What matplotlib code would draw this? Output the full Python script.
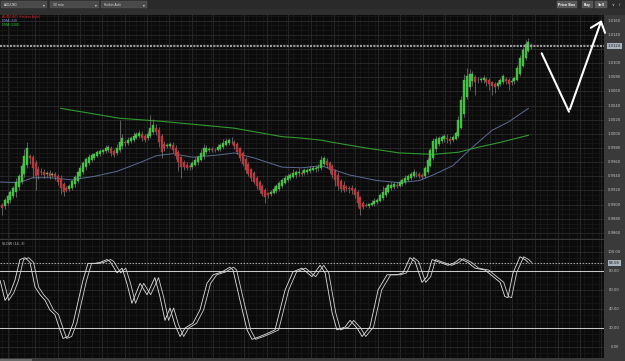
import numpy as np
import matplotlib
matplotlib.use("Agg")
import matplotlib.pyplot as plt
import matplotlib.transforms as mtransforms
from matplotlib.patches import Rectangle, FancyArrowPatch
from matplotlib.lines import Line2D
from matplotlib.ticker import MultipleLocator

W, H = 625, 361
PIP = 1e-4
PIP_BASE = 0.9800

# ─── data ───────────────────────────────────────────────────────────────────
# Heikin-Ashi closes, pips above PIP_BASE, one per 30-min candle
ha_close_pips = [
    95, 107, 112, 118, 123, 132, 140, 154, 169, 180,
    166, 152, 140, 142, 146, 142, 145, 140, 143, 139,
    132, 123, 118, 121, 126, 133, 139, 146, 152, 159,
    164, 167, 170, 171, 174, 176, 177, 180, 181, 173,
    170, 180, 188, 194, 187, 191, 194, 197, 200, 201,
    194, 191, 200, 208, 213, 203, 188, 174, 180, 184,
    185, 177, 169, 160, 153, 153, 152, 153, 159, 163,
    167, 173, 180, 180, 179, 177, 177, 181, 184, 187,
    190, 191, 188, 183, 174, 166, 157, 149, 143, 138,
    132, 126, 121, 115, 111, 114, 118, 122, 126, 131,
    135, 138, 140, 142, 145, 146, 146, 143, 149, 149,
    150, 152, 152, 153, 163, 166, 156, 149, 142, 135,
    126, 122, 121, 123, 122, 121, 113, 103, 94, 97,
    98, 101, 103, 105, 107, 113, 118, 123, 128, 128,
    129, 126, 132, 135, 138, 140, 143, 146, 143, 140,
    139, 152, 163, 177, 190, 192, 194, 195, 197, 192,
    190, 195, 201, 220, 248, 276, 281, 284, 285, 273,
    276, 277, 279, 273, 270, 267, 266, 272, 276, 281,
    275, 270, 275, 279, 293, 307, 318, 327, 329, 325,
]
ha_first_open_pips = 100

wick_up_pips = [
    3, 2, 3, 2, 4, 6, 3, 5, 10, 8,
    4, 3, 3, 5, 6, 5, 3, 4, 3, 3,
    3, 5, 2, 3, 3, 2, 3, 2, 4, 3,
    3, 4, 3, 2, 3, 3, 2, 4, 3, 4,
    3, 5, 31, 6, 3, 4, 3, 5, 3, 4,
    5, 3, 4, 18, 8, 6, 4, 3, 4, 3,
    4, 5, 3, 3, 2, 3, 4, 3, 3, 4,
    3, 5, 6, 4, 3, 3, 3, 4, 3, 5,
    4, 3, 6, 3, 3, 2, 3, 2, 3, 2,
    3, 2, 3, 2, 3, 2, 3, 4, 3, 3,
    3, 4, 3, 3, 5, 3, 6, 4, 3, 3,
    4, 3, 3, 4, 5, 3, 4, 3, 3, 2,
    4, 3, 6, 4, 3, 5, 3, 3, 2, 3,
    3, 2, 3, 4, 3, 4, 8, 3, 3, 4,
    3, 4, 3, 3, 4, 3, 3, 4, 5, 3,
    3, 3, 4, 3, 4, 5, 3, 4, 3, 5,
    3, 4, 3, 5, 6, 8, 12, 8, 4, 3,
    4, 3, 4, 3, 3, 2, 3, 4, 3, 4,
    3, 3, 4, 3, 4, 5, 4, 6, 6, 3,
]
wick_dn_pips = [
    10, 4, 3, 5, 3, 7, 4, 3, 4, 5,
    8, 14, 20, 6, 4, 5, 5, 4, 3, 4,
    4, 8, 6, 3, 3, 4, 3, 3, 2, 3,
    3, 2, 3, 3, 2, 3, 2, 3, 4, 5,
    3, 3, 2, 3, 4, 3, 2, 3, 2, 3,
    4, 3, 2, 3, 2, 4, 6, 8, 4, 3,
    3, 4, 5, 12, 15, 4, 3, 4, 3, 2,
    3, 2, 3, 3, 2, 3, 3, 2, 3, 3,
    2, 3, 3, 4, 3, 4, 3, 4, 3, 4,
    3, 4, 4, 3, 8, 4, 3, 2, 3, 3,
    3, 2, 3, 3, 2, 4, 3, 3, 2, 3,
    3, 2, 4, 3, 3, 3, 4, 5, 4, 8,
    5, 4, 3, 4, 5, 6, 4, 6, 8, 3,
    2, 3, 2, 3, 3, 2, 3, 3, 2, 3,
    4, 3, 2, 3, 3, 2, 3, 2, 4, 3,
    3, 2, 3, 2, 3, 3, 2, 3, 4, 5,
    4, 3, 2, 3, 2, 4, 3, 4, 8, 18,
    4, 3, 5, 6, 8, 12, 8, 4, 3, 3,
    5, 8, 4, 3, 2, 3, 2, 3, 2, 3,
]

ema50_idx = [-1, 6, 11, 17, 25, 33, 41, 49, 55, 61, 68, 77, 83, 90, 100,
             107, 114, 124, 134, 142, 149, 154, 161, 168, 175, 181, 188]
ema50_pips = [132, 131, 138, 138, 135, 140, 147, 159, 169, 172, 167, 170, 173, 166, 153,
              152, 155, 142, 134, 131, 134, 142, 155, 181, 205, 217, 236]

ema200_idx = [21, 42, 56, 83, 100, 107, 114, 118, 130, 142, 154, 163, 170, 178, 188]
ema200_pips = [236, 222, 218, 208, 196, 194, 191, 188, 180, 173, 171, 174, 181, 188, 198]

slow_idx = [-0.7, 1.1, 2.9, 4.6, 6.4, 8.2, 10.0, 11.8, 13.6, 15.4, 17.1, 18.9, 20.7, 21.8,
            23.6, 25.4, 27.1, 28.9, 30.7, 33.2, 35.0, 37.5, 38.6, 41.1, 42.9, 44.6, 46.4,
            49.3, 51.8, 54.6, 56.4, 58.2, 60.0, 61.8, 63.6, 65.4, 68.2, 70.7, 73.2, 75.4,
            78.6, 81.4, 82.5, 85.0, 87.5, 89.3, 92.1, 94.6, 97.5, 99.3, 101.1, 103.9,
            107.1, 110.7, 113.6, 115.4, 117.9, 119.6, 122.5, 124.3, 126.8, 128.6, 131.4,
            134.3, 137.5, 141.1, 143.2, 145.7, 147.5, 150.0, 151.8, 153.6, 156.4, 159.3,
            161.8, 163.6, 166.4, 168.9, 172.5, 175.4, 177.9, 179.6, 180.7, 182.5, 185.0,
            186.8, 187.9]
slow_k = [70, 49, 57, 70, 92, 94, 89, 63, 55, 49, 39, 34, 18, 9,
          11, 25, 47, 70, 88, 88, 89, 92, 90, 78, 83, 67, 46,
          67, 55, 73, 53, 28, 41, 23, 11, 20, 25, 39, 67, 76,
          79, 84, 81, 49, 18, 8, 11, 14, 18, 39, 60, 79,
          83, 74, 86, 78, 36, 18, 21, 28, 20, 11, 21,
          60, 76, 76, 78, 94, 90, 68, 74, 92, 89, 86,
          89, 93, 89, 83, 81, 74, 68, 53, 52, 78, 95,
          92, 89]
slow_d_lag = 1.3  # candles the %D line trails %K

last_price = 1.0124
last_slow = 88.58

time_tick_idx = [2.1, 11.7, 20.0, 28.0, 35.7, 43.8, 51.8, 59.5, 67.9, 75.3, 86.3, 94.5,
                 102.3, 110.4, 118.5, 126.2, 134.3, 142.1, 150.5, 158.3, 166.3, 174.2,
                 182.1, 190.3, 198.4, 206.3, 213.9]
time_tick_labels = ["04:00", "08:00", "12:00", "16:00", "20:00", "Dec 18", "04:00",
                    "08:00", "12:00", "08:00 12:00", "16:00", "20:00", "Dec 19", "04:00",
                    "08:00", "12:00", "16:00", "20:00", "Dec 20", "04:00", "08:00",
                    "12:00", "16:00", "20:00", "Dec 21", "04:00", "08:00"]

price_ticks = [1.0160, 1.0140, 1.0120, 1.0100, 1.0080, 1.0060, 1.0040, 1.0020,
               1.0000, 0.9980, 0.9960, 0.9940, 0.9920, 0.9900, 0.9880, 0.9860]
slow_ticks = [100, 80, 60, 40, 20, 0]
slow_levels = [80, 20]

# ─── styling ────────────────────────────────────────────────────────────────
BG = "#0b0b0b"
PANEL = "#3a3a3a"
GRID_MAJ = "#2c2c2c"
GRID_MIN = "#1a1a1a"
TXT = "#c4c4c4"
UP = "#45c045"
DN = "#b8383e"
FS = 2.7

STEP = 2.8          # px per candle
X0 = 2.0            # px of first candle
CHART_R = 604       # px where the price scale panel starts


def px_axes(fig, x0, y0, x1, y1):
    return fig.add_axes([x0 / W, 1 - y1 / H, (x1 - x0) / W, (y1 - y0) / H])


def fpt(x, y):
    return x / W, 1 - y / H


def style_panel(ax):
    ax.set_facecolor(BG)
    for s in ax.spines.values():
        s.set_visible(False)
    ax.set_xlim(-X0 / STEP, (CHART_R - X0) / STEP)
    ax.set_xticks(time_tick_idx)
    ax.xaxis.set_minor_locator(MultipleLocator(8 / 3))
    ax.grid(which="major", color=GRID_MAJ, lw=0.6)
    ax.grid(which="minor", color=GRID_MIN, lw=0.5)
    ax.set_axisbelow(True)
    ax.tick_params(which="both", length=0, labelbottom=False, labelleft=False)


fig = plt.figure(figsize=(W / 100, H / 100), dpi=100)
fig.patch.set_facecolor(PANEL)

# toolbar + time row
fig.patches.append(Rectangle(fpt(0, 9), 1, 9 / H, transform=fig.transFigure,
                             facecolor="#2a2a2a", edgecolor="none", zorder=0))
fig.patches.append(Rectangle(fpt(0, 15), 1, 6 / H, transform=fig.transFigure,
                             facecolor="#2f2f2f", edgecolor="none", zorder=0))
for x0, x1, label in [(0.5, 47, "AUD/USD"), (50, 99, "30 min"), (101, 147, "Heikin Ashi")]:
    fig.patches.append(Rectangle(fpt(x0, 8), (x1 - x0) / W, 7 / H, transform=fig.transFigure,
                                 facecolor="#4a4a4a", edgecolor="#5a5a5a", lw=0.3))
    fig.text(*fpt(x0 + 3, 4.6), label, fontsize=2.2, color="#e6e6e6", va="center")
    fig.text(*fpt(x1 - 3.5, 4.6), "▾", fontsize=2.6, color="#dddddd", va="center", ha="center")
for x0, x1, label in [(557, 577, "Price Box"), (582, 593, "Buy"), (595, 607, "Sell")]:
    fig.patches.append(Rectangle(fpt(x0, 8), (x1 - x0) / W, 7 / H, transform=fig.transFigure,
                                 facecolor="#575757", edgecolor="#666666", lw=0.3))
    fig.text(*fpt((x0 + x1) / 2, 4.6), label, fontsize=2.3, color="#eeeeee",
             va="center", ha="center", fontweight="bold")
fig.text(*fpt(613, 4.6), "\u2228", fontsize=2.8, color="#dddddd", va="center", ha="center")
fig.text(*fpt(620, 4.6), "/", fontsize=2.8, color="#dddddd", va="center", ha="center")

ax_t = px_axes(fig, 0, 9, CHART_R, 15)
ax_t.set_facecolor("#2f2f2f")
ax_t.set_xlim(-X0 / STEP, (CHART_R - X0) / STEP)
ax_t.set_ylim(0, 1)
ax_t.axis("off")
for idx, lab in zip(time_tick_idx, time_tick_labels):
    ax_t.text(idx, 0.45, lab, fontsize=FS, color=TXT, ha="center", va="center", clip_on=True)

# ─── main price panel ───────────────────────────────────────────────────────
ax = px_axes(fig, 0, 15, CHART_R, 239)
style_panel(ax)
ax.set_ylim(0.98515, 1.01678)
ax.set_yticks(price_ticks)
ax.yaxis.set_minor_locator(MultipleLocator(0.002 / 3))

close = PIP_BASE + np.array(ha_close_pips) * PIP
opens = np.empty_like(close)
opens[0] = PIP_BASE + ha_first_open_pips * PIP
for i in range(1, len(close)):
    opens[i] = (opens[i - 1] + close[i - 1]) / 2
top = np.maximum(opens, close)
bot = np.minimum(opens, close)
high = top + np.array(wick_up_pips) * PIP
low = bot - np.array(wick_dn_pips) * PIP
idx = np.arange(len(close))
colors = np.where(close >= opens, UP, DN)

ax.plot(np.array(ema200_idx), PIP_BASE + np.array(ema200_pips) * PIP, color="#2f9a2f", lw=0.8, zorder=2)
ax.plot(np.array(ema50_idx), PIP_BASE + np.array(ema50_pips) * PIP, color="#5b6b94", lw=0.7, zorder=2)
ax.vlines(idx, low, high, colors="#8a8a8a", lw=0.45, zorder=3)
ax.bar(idx, top - bot, bottom=bot, width=0.72, color=colors, edgecolor=colors, lw=0.3, zorder=4)

ax.axhline(last_price, color="#9c9c9c", lw=1.5, ls=(0, (1, 0.6)), zorder=5)

tr = mtransforms.blended_transform_factory(ax.transAxes, ax.transData)
lab_x = 614.5 / CHART_R
for p in price_ticks:
    if abs(p - last_price) > 0.0006:
        ax.text(lab_x, p, f"{p:.4f}", transform=tr, fontsize=FS, color=TXT,
                ha="center", va="center", clip_on=False)
ax.text(lab_x, last_price, f"{last_price:.4f}", transform=tr, fontsize=FS, color="#1c1c1c",
        ha="center", va="center", clip_on=False,
        bbox=dict(boxstyle="square,pad=0.35", facecolor="#a8b3bf", edgecolor="none"))

fig.text(*fpt(2, 17), "AUD/USD (Heikin-Ashi)", fontsize=2.4, color="#d02a2a", va="center")
fig.text(*fpt(2, 21), "EMA (50)", fontsize=2.4, color="#7f93d6", va="center")
fig.text(*fpt(2, 25.2), "EMA (200)", fontsize=2.4, color="#2fc02f", va="center")

# ─── slow stochastic panel ──────────────────────────────────────────────────
axs = px_axes(fig, 0, 240, CHART_R, 358)
style_panel(axs)
axs.set_ylim(-11.6, 112.6)
axs.set_yticks(slow_ticks)
axs.yaxis.set_minor_locator(MultipleLocator(20 / 3))
for lv in slow_levels:
    axs.axhline(lv, color="#c8c8c8", lw=0.75, zorder=2)
axs.axhline(last_slow, color="#9c9c9c", lw=0.8, ls=(0, (1.5, 1.2)), zorder=2)
axs.plot(slow_idx, slow_k, color="#e4e4e4", lw=0.6, zorder=3)
axs.plot(np.array(slow_idx) + slow_d_lag, slow_k, color="#d0d0d0", lw=0.6, zorder=3)

trs = mtransforms.blended_transform_factory(axs.transAxes, axs.transData)
for v in slow_ticks:
    axs.text(lab_x, v, f"{v:.2f}", transform=trs, fontsize=FS, color=TXT,
             ha="center", va="center", clip_on=False)
axs.text(lab_x, last_slow, f"{last_slow:.2f}", transform=trs, fontsize=FS, color="#1c1c1c",
         ha="center", va="center", clip_on=False,
         bbox=dict(boxstyle="square,pad=0.35", facecolor="#a8b3bf", edgecolor="none"))
fig.text(*fpt(2, 244), "SLOW (14, 3)", fontsize=2.4, color=TXT, va="center")

fig.patches.append(Rectangle(fpt(0, 361), 32 / W, 2.5 / H, transform=fig.transFigure,
                             facecolor="#6a6a6a", edgecolor="none"))

# ─── hand-drawn "V" annotation ──────────────────────────────────────────────
fig.add_artist(Line2D([541.7 / W, 569 / W], [1 - 53.3 / H, 1 - 111.7 / H],
                      transform=fig.transFigure, color="white", lw=1.5,
                      solid_capstyle="round", zorder=10))
fig.add_artist(FancyArrowPatch(fpt(569, 111.7), fpt(602.5, 17.5), transform=fig.transFigure,
                               arrowstyle="->,head_length=0.55,head_width=0.45",
                               mutation_scale=12, color="white", lw=1.5, zorder=10))

fig.savefig("out.png", dpi=100, facecolor=fig.get_facecolor())
